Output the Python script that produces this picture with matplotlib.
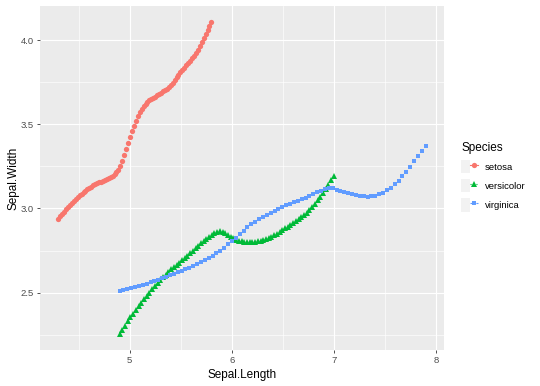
import numpy as np
import matplotlib.pyplot as plt
from matplotlib.lines import Line2D
from matplotlib.patches import Rectangle
from matplotlib.legend_handler import HandlerTuple

plt.rcParams['font.family'] = ['Liberation Sans', 'DejaVu Sans']

# smoothed Sepal.Width vs Sepal.Length, 80 points per species
species = ['setosa', 'versicolor', 'virginica']
x_lo = [4.3, 4.9, 4.9]
x_hi = [5.8, 7.0, 7.9]

setosa_y = [2.939, 2.953, 2.967, 2.981, 2.995, 3.008, 3.021, 3.034, 3.046, 3.058,
            3.069, 3.079, 3.088, 3.097, 3.106, 3.114, 3.122, 3.130, 3.137, 3.143,
            3.149, 3.155, 3.160, 3.166, 3.171, 3.176, 3.181, 3.187, 3.193, 3.203,
            3.216, 3.232, 3.255, 3.285, 3.318, 3.352, 3.388, 3.425, 3.460, 3.490,
            3.520, 3.550, 3.575, 3.595, 3.610, 3.623, 3.634, 3.643, 3.651, 3.658,
            3.665, 3.674, 3.682, 3.690, 3.697, 3.705, 3.713, 3.722, 3.733, 3.746,
            3.762, 3.780, 3.796, 3.810, 3.824, 3.838, 3.851, 3.865, 3.880, 3.895,
            3.910, 3.927, 3.946, 3.966, 3.988, 4.012, 4.037, 4.063, 4.089, 4.112]

versicolor_y = [2.251, 2.277, 2.303, 2.329, 2.354, 2.375, 2.396, 2.417, 2.438, 2.459,
                2.479, 2.500, 2.519, 2.537, 2.556, 2.574, 2.590, 2.606, 2.622, 2.639,
                2.652, 2.665, 2.678, 2.692, 2.706, 2.720, 2.733, 2.748, 2.763, 2.778,
                2.794, 2.806, 2.819, 2.831, 2.843, 2.852, 2.860, 2.868, 2.863, 2.854,
                2.844, 2.832, 2.822, 2.814, 2.809, 2.805, 2.803, 2.802, 2.801, 2.800,
                2.802, 2.805, 2.808, 2.812, 2.819, 2.826, 2.833, 2.841, 2.851, 2.861,
                2.870, 2.881, 2.892, 2.903, 2.914, 2.925, 2.937, 2.949, 2.961, 2.976,
                2.992, 3.008, 3.026, 3.048, 3.071, 3.093, 3.117, 3.142, 3.167, 3.192]

virginica_y = [2.511, 2.516, 2.520, 2.525, 2.532, 2.538, 2.545, 2.552, 2.560, 2.568,
               2.576, 2.584, 2.593, 2.603, 2.612, 2.621, 2.630, 2.639, 2.648, 2.658,
               2.669, 2.679, 2.691, 2.704, 2.717, 2.733, 2.749, 2.767, 2.786, 2.806,
               2.826, 2.847, 2.868, 2.887, 2.906, 2.922, 2.937, 2.952, 2.964, 2.976,
               2.988, 2.998, 3.009, 3.018, 3.028, 3.037, 3.046, 3.055, 3.064, 3.074,
               3.085, 3.096, 3.107, 3.117, 3.122, 3.120, 3.113, 3.105, 3.097, 3.091,
               3.085, 3.080, 3.076, 3.073, 3.071, 3.072, 3.076, 3.084, 3.095, 3.108,
               3.124, 3.143, 3.165, 3.191, 3.219, 3.249, 3.282, 3.314, 3.343, 3.370]

ys = [setosa_y, versicolor_y, virginica_y]
colors = ['#F8766D', '#00BA38', '#619CFF']
markers = ['o', '^', 's']
msizes = [3.8, 4.3, 3.5]
styles = ['-', ':', '--']

fig = plt.figure(figsize=(5.4, 3.86), dpi=100)
ax = fig.add_axes([40/540, 1-350/386, 404/540, 344/386])
ax.set_facecolor('#EBEBEB')

handles = []
for sp, lo, hi, y, c, m, ms, ls in zip(species, x_lo, x_hi, ys, colors, markers, msizes, styles):
    x = np.linspace(lo, hi, len(y))
    ax.plot(x, y, linestyle='none', marker=m, ms=ms, mew=0, color=c, zorder=3)
    key_bg = Rectangle((0, 0), 1, 1, facecolor='#F2F2F2', edgecolor='none')
    key = Line2D([], [], color=c, lw=0.8, linestyle=ls, marker=m, ms=ms, mew=0)
    handles.append((key_bg, key))

# ggplot-like expanded limits
all_x = [v for lo, hi in zip(x_lo, x_hi) for v in (lo, hi)]
all_y = [v for y in ys for v in y]
dx = (max(all_x) - min(all_x)) * 0.05
dy = (max(all_y) - min(all_y)) * 0.05
ax.set_xlim(min(all_x) - dx, max(all_x) + dx)
ax.set_ylim(min(all_y) - dy, max(all_y) + dy)

ax.set_xticks([5, 6, 7, 8])
ax.set_xticks([4.5, 5.5, 6.5, 7.5], minor=True)
ax.set_yticks([2.5, 3.0, 3.5, 4.0])
ax.set_yticks([2.25, 2.75, 3.25, 3.75], minor=True)
ax.set_yticklabels(['2.5', '3.0', '3.5', '4.0'])
ax.grid(which='major', color='white', lw=0.85)
ax.grid(which='minor', color='white', lw=0.45)
ax.set_axisbelow(True)
for s in ax.spines.values():
    s.set_visible(False)
ax.tick_params(which='major', length=2.3, width=0.6, color='#333333',
               labelcolor='#4D4D4D', labelsize=6.8, pad=2.3)
ax.tick_params(which='minor', length=0)

ax.set_xlabel('Sepal.Length', fontsize=8.5)
ax.set_ylabel('Sepal.Width', fontsize=8.5)
ax.xaxis.set_label_coords(0.5, -(369-350)/344)
ax.yaxis.set_label_coords((20-40)/404, 0.5)

leg = fig.legend(handles, species, handler_map={tuple: HandlerTuple(ndivide=None, pad=0)},
                 loc='upper left', bbox_to_anchor=(461/540, 1-142/386),
                 frameon=False, title='Species', title_fontsize=8.5, fontsize=6.8,
                 alignment='left', borderpad=0, borderaxespad=0,
                 handlelength=1.8, handleheight=1.8, labelspacing=0.62,
                 handletextpad=0.7)

fig.savefig('out.png', dpi=100)
